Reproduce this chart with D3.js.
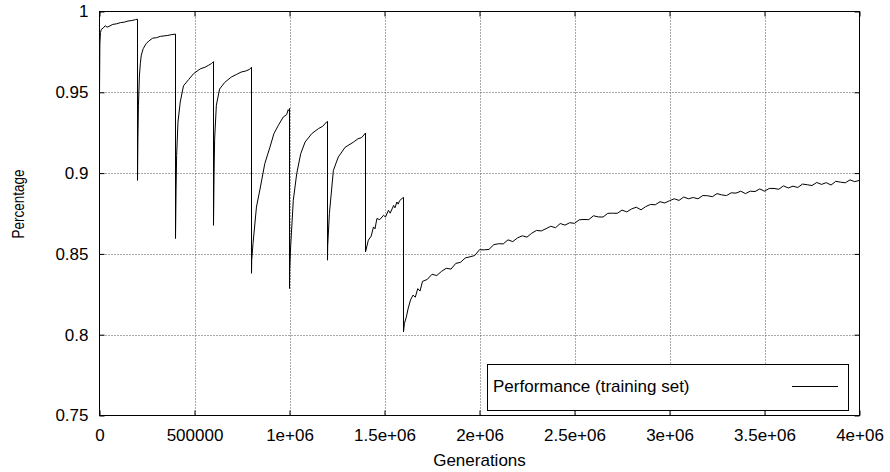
<!DOCTYPE html>
<html>
<head>
<meta charset="utf-8">
<script src="https://cdn.jsdelivr.net/npm/d3@7"></script>
<style>
  body { margin: 0; background: #fff; }
  text { font-family: "Liberation Sans", Arial, Helvetica, sans-serif; fill: #000; }
</style>
</head>
<body>
<svg id="chart" width="890" height="472"></svg>
<script>
"use strict";

// generations in thousands, each reset repeats its x (vertical drop)
var genK = [
  0, 2, 5, 10, 20, 30, 40, 50, 70, 90, 110, 130, 150, 170, 190, 200,
  200, 202, 205, 210, 215, 220, 230, 245, 260, 280, 300, 320, 340, 360, 380, 400,
  400, 403, 406, 413, 425, 442, 470, 495, 530, 555, 575, 590, 600,
  600, 603, 606, 615, 632, 658, 693, 720, 745, 770, 790, 800,
  800, 801, 808, 826, 847, 870, 897, 918, 941, 967, 985, 993, 998, 1000,
  1000, 1001, 1006, 1020, 1038, 1059, 1082, 1117, 1152, 1175, 1195, 1200,
  1200, 1201, 1210, 1231, 1257, 1293, 1337, 1360, 1380, 1400,
  1400, 1415, 1430, 1442, 1450, 1460, 1475, 1495, 1505, 1521, 1530, 1548, 1555, 1565, 1572, 1580, 1592, 1600,
  1600, 1605, 1615, 1625, 1637, 1650, 1662, 1675, 1687,
  1700, 1725, 1750, 1775, 1800, 1825, 1850, 1875,
  1900, 1925, 1950, 1975, 2000, 2025, 2050, 2075, 2100, 2125, 2150, 2175,
  2200, 2225, 2250, 2275, 2300, 2325, 2350, 2375, 2400, 2425, 2450, 2475,
  2500, 2525, 2550, 2575, 2600, 2625, 2650, 2675, 2700, 2725, 2750, 2775,
  2800, 2825, 2850, 2875, 2900, 2925, 2950, 2975, 3000, 3025, 3050, 3075,
  3100, 3125, 3150, 3175, 3200, 3225, 3250, 3275, 3300, 3325, 3350, 3375,
  3400, 3425, 3450, 3475, 3500, 3525, 3550, 3575, 3600, 3625, 3650, 3675,
  3700, 3725, 3750, 3775, 3800, 3825, 3850, 3875, 3900, 3925, 3950, 3975, 4000
];

var perfValues = [
  0.950, 0.980, 0.987, 0.989, 0.9898, 0.9912, 0.9903, 0.9908, 0.9920, 0.9924, 0.9931, 0.9934, 0.9941, 0.9944, 0.9950, 0.9952,
  0.8955, 0.920, 0.942, 0.960, 0.968, 0.973, 0.977, 0.980, 0.9818, 0.9835, 0.9838, 0.9846, 0.9849, 0.9852, 0.9857, 0.9860,
  0.8595, 0.890, 0.911, 0.9316, 0.944, 0.954, 0.958, 0.9615, 0.9645, 0.9655, 0.9668, 0.9678, 0.9690,
  0.8677, 0.900, 0.921, 0.942, 0.952, 0.956, 0.9594, 0.9610, 0.9625, 0.9632, 0.9642, 0.9655,
  0.8380, 0.846, 0.8564, 0.879, 0.8914, 0.9059, 0.9160, 0.9244, 0.9295, 0.9347, 0.9362, 0.9392, 0.9385, 0.9400,
  0.8286, 0.840, 0.8543, 0.8832, 0.8997, 0.9120, 0.9192, 0.9244, 0.9275, 0.9290, 0.9316, 0.9320,
  0.8461, 0.855, 0.875, 0.9017, 0.9100, 0.9160, 0.9192, 0.9212, 0.9220, 0.9248,
  0.8512, 0.8585, 0.8610, 0.8667, 0.8655, 0.8719, 0.8712, 0.8739, 0.8728, 0.8770, 0.8752, 0.8800, 0.8785, 0.8821, 0.8808, 0.8830, 0.8842, 0.8850,
  0.8018, 0.8070, 0.8110, 0.8165, 0.8215, 0.8245, 0.8232, 0.8285, 0.8270,
  0.8330, 0.8342, 0.8374, 0.8366, 0.8392, 0.8411, 0.8406, 0.8441,
  0.8448, 0.8475, 0.8482, 0.8490, 0.8526, 0.8525, 0.8528, 0.8557, 0.8563, 0.8562, 0.8587, 0.8576,
  0.8599, 0.8612, 0.8604, 0.8628, 0.8645, 0.8642, 0.8656, 0.8671, 0.8662, 0.8688, 0.8678, 0.8693,
  0.8689, 0.8711, 0.8713, 0.8712, 0.8736, 0.8729, 0.8728, 0.8751, 0.8752, 0.8751, 0.8771, 0.8760,
  0.8778, 0.8789, 0.8773, 0.8793, 0.8806, 0.8804, 0.8823, 0.8815, 0.8829, 0.8841, 0.8831, 0.8852,
  0.8841, 0.8849, 0.8841, 0.8861, 0.8860, 0.8854, 0.8873, 0.8865, 0.8861, 0.8878, 0.8876, 0.8888,
  0.8873, 0.8888, 0.8886, 0.8902, 0.8888, 0.8905, 0.8905, 0.8900, 0.8921, 0.8908, 0.8919, 0.8911,
  0.8932, 0.8928, 0.8923, 0.8942, 0.8930, 0.8941, 0.8926, 0.8949, 0.8944, 0.8940, 0.8958, 0.8947, 0.8955
];

var xTicks = [0, 500000, 1000000, 1500000, 2000000, 2500000, 3000000, 3500000, 4000000];
var xTickLabels = ["0", "500000", "1e+06", "1.5e+06", "2e+06", "2.5e+06", "3e+06", "3.5e+06", "4e+06"];
var yTicks = [0.75, 0.8, 0.85, 0.9, 0.95, 1];
var yTickLabels = ["0.75", "0.8", "0.85", "0.9", "0.95", "1"];
var seriesName = "Performance (training set)";

var plotLeft = 99.5, plotRight = 859.5, plotTop = 11.5, plotBottom = 415.5;

var svg = d3.select("#chart");

var x = d3.scaleLinear().domain([0, 4000000]).range([plotLeft, plotRight]);
var y = d3.scaleLinear().domain([0.75, 1]).range([plotBottom, plotTop]);

// grid
var grid = svg.append("g").attr("stroke", "#555").attr("stroke-width", 1).attr("stroke-dasharray", "1,2");
grid.selectAll(".gx").data(xTicks.slice(1, -1)).enter().append("line")
  .attr("x1", function (d) { return Math.round(x(d)) + 0.5; })
  .attr("x2", function (d) { return Math.round(x(d)) + 0.5; })
  .attr("y1", plotTop).attr("y2", plotBottom);
grid.selectAll(".gy").data(yTicks.slice(1, -1)).enter().append("line")
  .attr("y1", function (d) { return Math.round(y(d)) + 0.5; })
  .attr("y2", function (d) { return Math.round(y(d)) + 0.5; })
  .attr("x1", plotLeft).attr("x2", plotRight);

// axes with inward mirrored ticks
var tickLen = 5;
svg.append("g").attr("transform", "translate(0," + plotBottom + ")")
  .call(d3.axisBottom(x).tickValues(xTicks).tickSize(-tickLen).tickFormat(function (d, i) { return xTickLabels[i]; }))
  .call(function (g) { g.select(".domain").remove(); g.selectAll("text").attr("font-size", 17).attr("font-family", null).attr("dy", null).attr("y", 25); });
svg.append("g").attr("transform", "translate(0," + plotTop + ")")
  .call(d3.axisTop(x).tickValues(xTicks).tickSize(-tickLen).tickFormat(""))
  .call(function (g) { g.select(".domain").remove(); });
svg.append("g").attr("transform", "translate(" + plotLeft + ",0)")
  .call(d3.axisLeft(y).tickValues(yTicks).tickSize(-tickLen).tickFormat(function (d, i) { return yTickLabels[i]; }))
  .call(function (g) { g.select(".domain").remove(); g.selectAll("text").attr("font-size", 17).attr("font-family", null).attr("x", -11); });
svg.append("g").attr("transform", "translate(" + plotRight + ",0)")
  .call(d3.axisRight(y).tickValues(yTicks).tickSize(-tickLen).tickFormat(""))
  .call(function (g) { g.select(".domain").remove(); });

svg.selectAll(".tick line").attr("stroke", "#000");

// curve
svg.append("clipPath").attr("id", "clip").append("rect")
  .attr("x", plotLeft).attr("y", plotTop).attr("width", plotRight - plotLeft).attr("height", plotBottom - plotTop);

var line = d3.line()
  .x(function (d, i) { return x(genK[i] * 1000); })
  .y(function (d) { return y(d); });

svg.append("path")
  .datum(perfValues)
  .attr("clip-path", "url(#clip)")
  .attr("fill", "none")
  .attr("stroke", "#000")
  .attr("stroke-width", 1)
  .attr("d", line);

// border
svg.append("rect")
  .attr("x", plotLeft).attr("y", plotTop).attr("width", plotRight - plotLeft).attr("height", plotBottom - plotTop)
  .attr("fill", "none").attr("stroke", "#000").attr("stroke-width", 1);

// legend
var legend = svg.append("g");
legend.append("rect")
  .attr("x", 487.5).attr("y", 364.5).attr("width", 361).attr("height", 46)
  .attr("fill", "#fff").attr("stroke", "#000").attr("stroke-width", 1);
legend.append("text")
  .attr("x", 493).attr("y", 392).attr("font-size", 17).text(seriesName);
legend.append("line")
  .attr("x1", 792).attr("x2", 838).attr("y1", 386.5).attr("y2", 386.5)
  .attr("stroke", "#000").attr("stroke-width", 1);

// axis titles
svg.append("text")
  .attr("x", (plotLeft + plotRight) / 2).attr("y", 466)
  .attr("text-anchor", "middle").attr("font-size", 17).text("Generations");
svg.append("text")
  .attr("transform", "translate(24,204) rotate(-90)")
  .attr("text-anchor", "middle").attr("font-size", 17)
  .attr("textLength", 69).attr("lengthAdjust", "spacingAndGlyphs")
  .text("Percentage");
</script>
</body>
</html>
